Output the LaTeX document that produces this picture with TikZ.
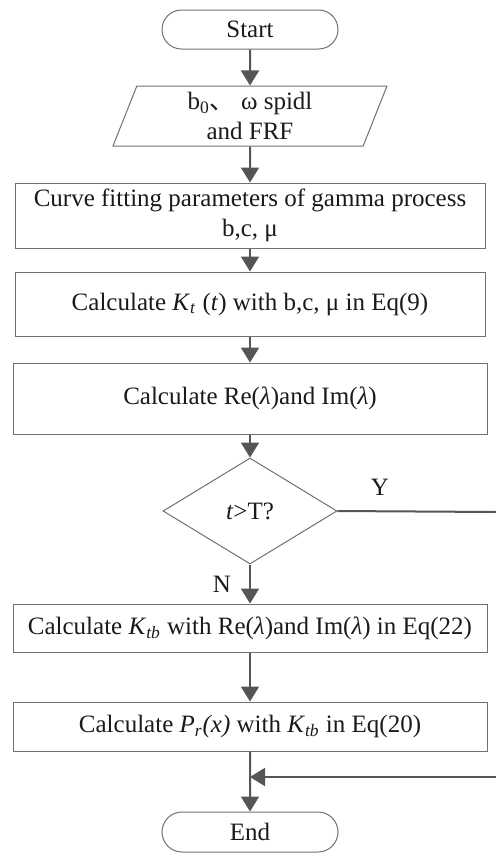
\documentclass[tikz,border=0pt]{standalone}
\usepackage{fontspec}
\setmainfont{Liberation Serif}
\newfontfamily\cjkfont{Noto Sans CJK SC}
\usetikzlibrary{shapes.geometric,shapes.misc,arrows.meta}
\definecolor{linegray}{HTML}{707070}
\definecolor{arrowgray}{HTML}{555555}
\definecolor{textblack}{HTML}{1A1A1A}
\newcommand{\Kt}{\textit{K}\textsubscript{\textit{t}}}
\newcommand{\Ktb}{\textit{K}\textsubscript{\textit{tb}}}
\newcommand{\lam}{\textit{λ}}

\begin{document}
\begin{tikzpicture}[x=0.5pt,y=-0.5pt,
  every node/.style={text=textblack,font=\fontsize{12.5}{15}\selectfont,inner sep=0pt},
  terminal/.style={draw=linegray,line width=0.5pt,rounded rectangle,minimum width=88pt,minimum height=19.5pt},
  iobox/.style={draw=linegray,line width=0.5pt,trapezium,trapezium left angle=63.4,trapezium right angle=116.6,
    trapezium stretches body,minimum width=137pt,minimum height=30pt,align=center},
  procbox/.style={draw=linegray,line width=0.5pt,rectangle,minimum width=235pt,align=center},
  widebox/.style={procbox,minimum width=237pt},
  decision/.style={draw=linegray,line width=0.5pt,diamond,minimum width=87pt,minimum height=53pt},
  flow/.style={draw=arrowgray,line width=1pt,-{Triangle[length=7.5pt,width=9pt]}},
  plain/.style={draw=arrowgray,line width=1pt}]
\useasboundingbox (0,0) rectangle (496,853);

\node[terminal] (start) at (250,29.5) {Start};
\node[iobox] (input) at (250,116) {b\textsubscript{0}{\cjkfont 、} ω spidl\\and FRF};
\node[procbox,minimum height=32.5pt] (fit) at (250,215.5) {Curve fitting parameters of gamma process\\b,c, μ};
\node[procbox,minimum height=32pt] (kt) at (250,304) {Calculate \Kt{} (\textit{t}) with b,c, μ in Eq(9)};
\node[widebox,minimum height=35.5pt] (reim) at (250,398.5) {Calculate Re(\lam)and Im(\lam)};
\node[decision] (dec) at (250,511) {\textit{t}>T?};
\node[widebox,minimum height=24pt] (ktb) at (250,628) {Calculate \Ktb{} with Re(\lam)and Im(\lam) in Eq(22)};
\node[widebox,minimum height=24.5pt] (pr) at (250,726.5) {Calculate \textit{P\textsubscript{r}(x)} with \Ktb{} in Eq(20)};
\node[terminal,minimum height=20pt] (end) at (250,832) {End};

\node (ylab) at (380,487) {Y};
\node (nlab) at (222,584) {N};

\coordinate (yout) at (496,512);
\coordinate (yin) at (496,777);
\coordinate (join) at (250,777);

\draw[flow] (start) -- (input);
\draw[flow] (input) -- (fit);
\draw[flow] (fit) -- (kt);
\draw[flow] (kt) -- (reim);
\draw[flow] (reim) -- (dec);
\draw[flow] (dec) -- (ktb);
\draw[flow] (ktb) -- (pr);
\draw[flow] (pr) -- (end);
\draw[plain] (dec.east) -- (yout);
\draw[flow] (yin) -- (join);
\end{tikzpicture}
\end{document}
